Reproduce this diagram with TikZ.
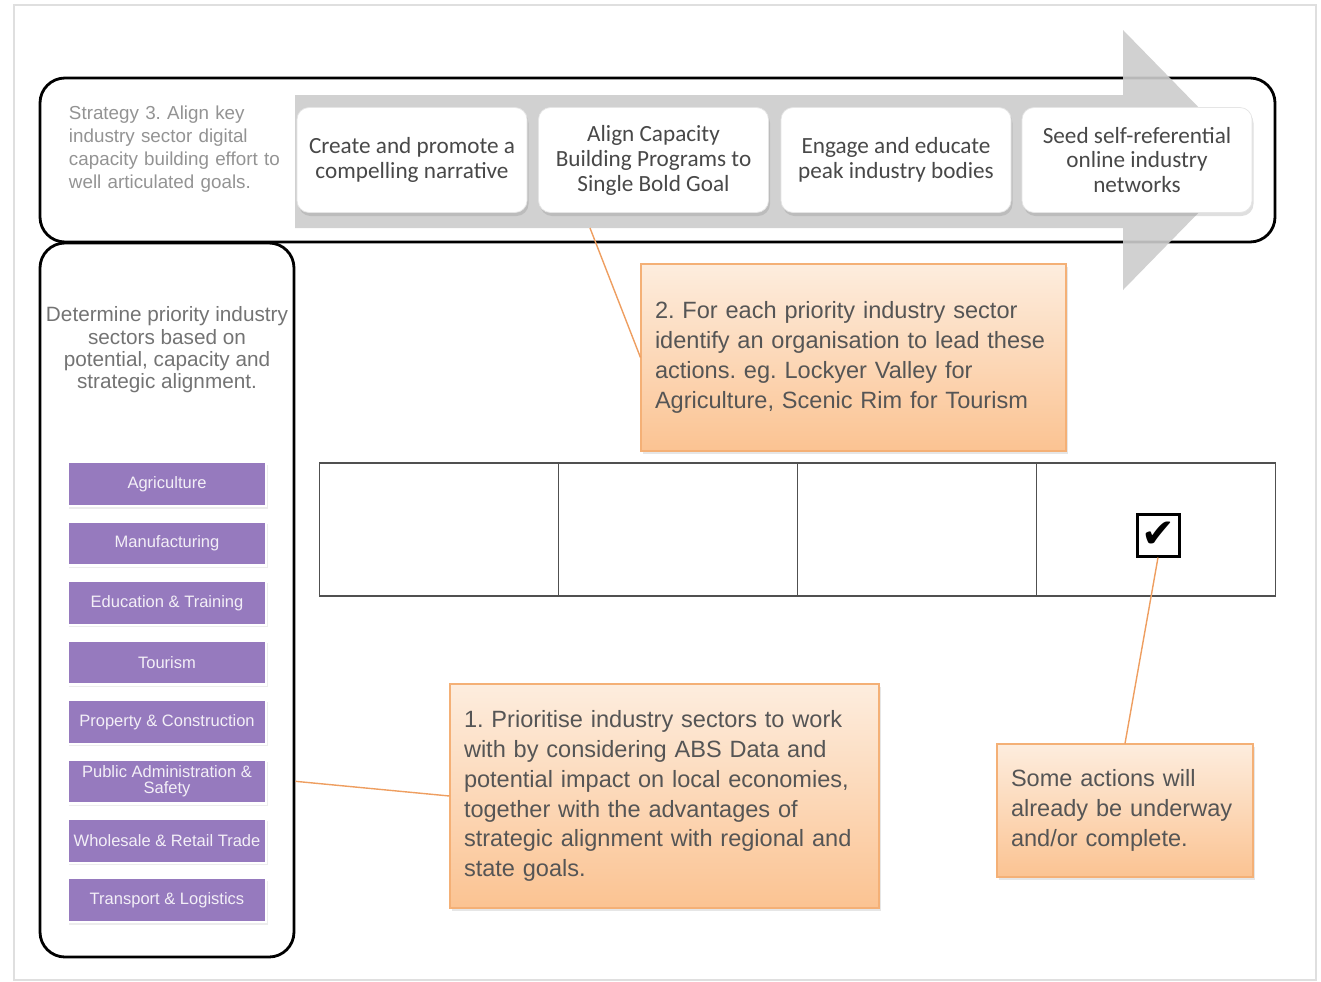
\documentclass[tikz,border=0pt]{standalone}
\usepackage{fontspec}
\setmainfont{Liberation Sans}
\newfontfamily\calibrifont{Carlito}
\newfontfamily\symbolfont{DejaVu Sans}
\usepackage{tikz}
\usetikzlibrary{positioning, shadows}
\frenchspacing
\definecolor{colorSector}{RGB}{150,122,190}
\definecolor{colorCalloutTop}{RGB}{253,237,222}
\definecolor{colorCalloutBottom}{RGB}{251,195,146}
\definecolor{colorCalloutBorder}{RGB}{244,176,118}
\definecolor{colorLeader}{RGB}{238,158,96}
\definecolor{colorArrow}{RGB}{204,204,204}
\definecolor{colorText}{RGB}{85,85,85}
\definecolor{colorGrid}{RGB}{80,80,80}
\tikzset{
  panel/.style={draw=black, line width=1.6pt, rounded corners=5mm, inner sep=0pt},
  stepbox/.style={draw=gray!20, fill=white, rounded corners=2.4mm, minimum width=46mm, minimum height=21mm,
    align=center, text=colorText!85!black, font=\calibrifont\fontsize{13.2}{14.2}\selectfont,
    drop shadow={opacity=0.25, shadow xshift=0.3mm, shadow yshift=-0.7mm}},
  sector/.style={fill=colorSector, draw=white, line width=1.4pt, minimum width=39.6mm, minimum height=8.8mm,
    inner sep=0pt, align=center, text=white!88!colorSector, font=\fontsize{9.4}{9}\selectfont,
    drop shadow={opacity=0.15, shadow xshift=0.3mm, shadow yshift=-0.5mm}},
  callout/.style={draw=colorCalloutBorder, line width=0.6pt, top color=colorCalloutTop, bottom color=colorCalloutBottom,
    align=left, text=colorText, font=\fontsize{13.4}{17}\selectfont, inner xsep=2.8mm,
    drop shadow={opacity=0.2, shadow xshift=0.4mm, shadow yshift=-0.6mm}},
  cell/.style={draw=colorGrid, line width=0.6pt, minimum width=47.8mm, minimum height=26.6mm, outer sep=0pt},
  leader/.style={draw=colorLeader, line width=0.8pt}
}

\begin{document}
\begin{tikzpicture}[x=0.2mm, y=-0.2mm, node distance=2.6mm]
\useasboundingbox (0,0) rectangle (1321,981);
\draw[gray!25, line width=0.8pt] (14,5) rectangle (1316,980);

% strategy band
\node[panel, minimum width=247mm, minimum height=32.8mm] (topband) at (657.5,160) {};
\fill[colorArrow, opacity=0.9] (295,95) -- (1123,95) -- (1123,30) -- (1250,160) -- (1123,290) -- (1123,228) -- (295,228) -- cycle;
\node[align=left, text width=44mm, text=gray!85, font=\fontsize{10.7}{13}\selectfont] (strategy) at (179,149)
  {Strategy 3. Align key\\industry sector digital\\capacity building effort to\\well articulated goals.};
\node[stepbox] (stepone) at (412,160) {Create and promote a\\compelling narrative};
\node[stepbox] (steptwo) at (653.5,160) {Align Capacity\\Building Programs to\\Single Bold Goal};
\node[stepbox] (stepthree) at (896,160) {Engage and educate\\peak industry bodies};
\node[stepbox] (stepfour) at (1137,160) {Seed self-referential\\online industry\\networks};

% priority sectors
\node[panel, minimum width=50.8mm, minimum height=142.8mm] (sectorpanel) at (167,600) {};
\node[align=center, text=gray!90!black, font=\fontsize{11.8}{12.7}\selectfont] (priority) at (167,350)
  {Determine priority industry\\sectors based on\\potential, capacity and\\strategic alignment.};
\node[sector] (agriculture) at (167,484) {Agriculture};
\node[sector, below=of agriculture] (manufacturing) {Manufacturing};
\node[sector, below=of manufacturing] (education) {Education \& Training};
\node[sector, below=of education] (tourism) {Tourism};
\node[sector, below=of tourism] (property) {Property \& Construction};
\node[sector, below=of property] (publicadmin) {Public Administration \&\\Safety};
\node[sector, below=of publicadmin] (wholesale) {Wholesale \& Retail Trade};
\node[sector, below=of wholesale] (transport) {Transport \& Logistics};

% action table
\node[cell] (cellone) at (439,529.5) {};
\node[cell, right=0pt of cellone] (celltwo) {};
\node[cell, right=0pt of celltwo] (cellthree) {};
\node[cell, right=0pt of cellthree] (cellfour) {};
\node[draw, line width=1.7pt, minimum size=8.4mm, inner sep=0pt, font=\symbolfont\fontsize{23}{23}\selectfont] (tick) at (1158,535) {✔};

% callouts
\node[callout, text width=79.4mm, minimum height=37.4mm] (callouttwo) at (853.5,357.5)
  {2. For each priority industry sector\\identify an organisation to lead these\\actions. eg. Lockyer Valley for\\Agriculture, Scenic Rim for Tourism};
\node[callout, text width=80.2mm, minimum height=44.8mm] (calloutone) at (664.5,796)
  {1. Prioritise industry sectors to work\\with by considering ABS Data and\\potential impact on local economies,\\together with the advantages of\\strategic alignment with regional and\\state goals.};
\node[callout, text width=45.6mm, minimum height=26.6mm] (calloutthree) at (1125,810.5)
  {Some actions will\\already be underway\\and/or complete.};

\coordinate (leadtop) at (590,228);
\draw[leader] (leadtop) -- (callouttwo.west);
\draw[leader] (sectorpanel.east |- publicadmin) -- (calloutone.west);
\draw[leader] (tick.south) -- (calloutthree.north);
\end{tikzpicture}
\end{document}
